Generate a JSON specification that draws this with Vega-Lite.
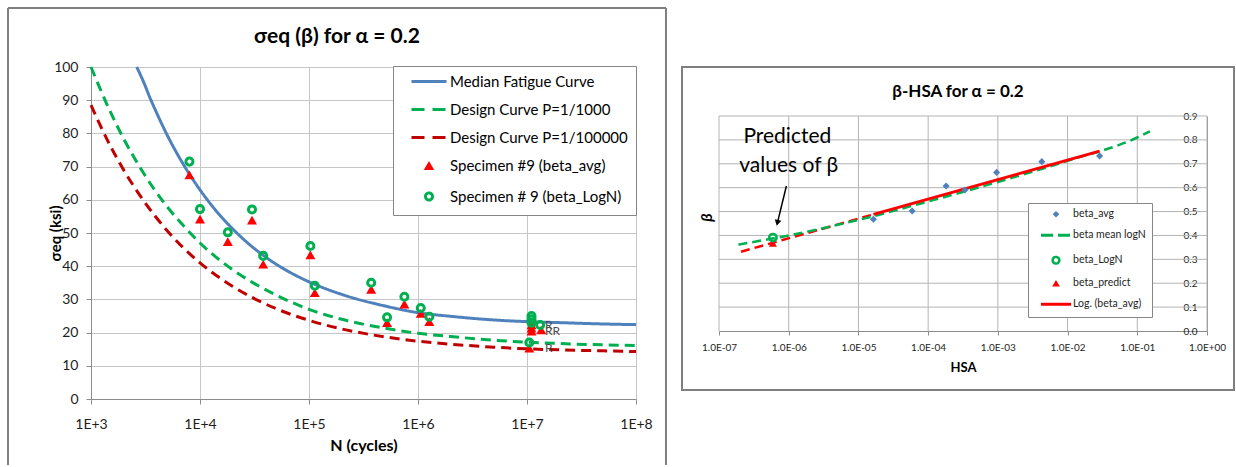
{
  "$schema": "https://vega.github.io/schema/vega-lite/v6.json",
  "padding": {"left": 7, "top": 7, "right": 0, "bottom": 0},
  "background": "#FFFFFF",
  "config": {
    "font": "Lato",
    "view": {"stroke": null},
    "axis": {
      "gridColor": "#C6C6C6",
      "gridWidth": 1,
      "domainColor": "#8C8C8C",
      "tickColor": "#8C8C8C",
      "labelColor": "#1E1E1E",
      "titleColor": "#000000",
      "labelFont": "Lato",
      "titleFont": "Lato"
    },
    "title": {"font": "Lato", "color": "#000000"}
  },
  "datasets": {
    "curves": [
      {"series": "Median Fatigue Curve", "N": 2630, "s": 100},
      {"series": "Median Fatigue Curve", "N": 3000, "s": 95.9},
      {"series": "Median Fatigue Curve", "N": 3500, "s": 90.5},
      {"series": "Median Fatigue Curve", "N": 4000, "s": 86.2},
      {"series": "Median Fatigue Curve", "N": 5000, "s": 79.5},
      {"series": "Median Fatigue Curve", "N": 7000, "s": 70.8},
      {"series": "Median Fatigue Curve", "N": 10000, "s": 63.0},
      {"series": "Median Fatigue Curve", "N": 15000, "s": 55.6},
      {"series": "Median Fatigue Curve", "N": 20000, "s": 51.2},
      {"series": "Median Fatigue Curve", "N": 30000, "s": 45.9},
      {"series": "Median Fatigue Curve", "N": 50000, "s": 40.6},
      {"series": "Median Fatigue Curve", "N": 70000, "s": 37.8},
      {"series": "Median Fatigue Curve", "N": 100000, "s": 35.3},
      {"series": "Median Fatigue Curve", "N": 200000, "s": 31.5},
      {"series": "Median Fatigue Curve", "N": 500000, "s": 28.0},
      {"series": "Median Fatigue Curve", "N": 1000000, "s": 26.0},
      {"series": "Median Fatigue Curve", "N": 2000000, "s": 24.9},
      {"series": "Median Fatigue Curve", "N": 5000000, "s": 23.8},
      {"series": "Median Fatigue Curve", "N": 10000000, "s": 23.3},
      {"series": "Median Fatigue Curve", "N": 20000000, "s": 23.0},
      {"series": "Median Fatigue Curve", "N": 50000000, "s": 22.6},
      {"series": "Median Fatigue Curve", "N": 100000000, "s": 22.4},
      {"series": "Design Curve P=1/1000", "N": 1000, "s": 100},
      {"series": "Design Curve P=1/1000", "N": 1500, "s": 86.6},
      {"series": "Design Curve P=1/1000", "N": 2000, "s": 78.3},
      {"series": "Design Curve P=1/1000", "N": 3000, "s": 68.3},
      {"series": "Design Curve P=1/1000", "N": 5000, "s": 57.9},
      {"series": "Design Curve P=1/1000", "N": 7000, "s": 52.3},
      {"series": "Design Curve P=1/1000", "N": 10000, "s": 47.0},
      {"series": "Design Curve P=1/1000", "N": 20000, "s": 38.9},
      {"series": "Design Curve P=1/1000", "N": 30000, "s": 35.2},
      {"series": "Design Curve P=1/1000", "N": 50000, "s": 31.3},
      {"series": "Design Curve P=1/1000", "N": 100000, "s": 27.0},
      {"series": "Design Curve P=1/1000", "N": 200000, "s": 24.0},
      {"series": "Design Curve P=1/1000", "N": 500000, "s": 21.3},
      {"series": "Design Curve P=1/1000", "N": 1000000, "s": 19.8},
      {"series": "Design Curve P=1/1000", "N": 2000000, "s": 18.8},
      {"series": "Design Curve P=1/1000", "N": 5000000, "s": 17.7},
      {"series": "Design Curve P=1/1000", "N": 10000000, "s": 17.1},
      {"series": "Design Curve P=1/1000", "N": 20000000, "s": 16.7},
      {"series": "Design Curve P=1/1000", "N": 50000000, "s": 16.3},
      {"series": "Design Curve P=1/1000", "N": 100000000, "s": 16.1},
      {"series": "Design Curve P=1/100000", "N": 1000, "s": 88.5},
      {"series": "Design Curve P=1/100000", "N": 1500, "s": 76.3},
      {"series": "Design Curve P=1/100000", "N": 2000, "s": 68.9},
      {"series": "Design Curve P=1/100000", "N": 3000, "s": 60.0},
      {"series": "Design Curve P=1/100000", "N": 5000, "s": 50.7},
      {"series": "Design Curve P=1/100000", "N": 7000, "s": 45.6},
      {"series": "Design Curve P=1/100000", "N": 10000, "s": 41.0},
      {"series": "Design Curve P=1/100000", "N": 20000, "s": 33.9},
      {"series": "Design Curve P=1/100000", "N": 30000, "s": 30.6},
      {"series": "Design Curve P=1/100000", "N": 50000, "s": 27.2},
      {"series": "Design Curve P=1/100000", "N": 100000, "s": 23.7},
      {"series": "Design Curve P=1/100000", "N": 200000, "s": 21.1},
      {"series": "Design Curve P=1/100000", "N": 500000, "s": 18.7},
      {"series": "Design Curve P=1/100000", "N": 1000000, "s": 17.4},
      {"series": "Design Curve P=1/100000", "N": 2000000, "s": 16.5},
      {"series": "Design Curve P=1/100000", "N": 5000000, "s": 15.6},
      {"series": "Design Curve P=1/100000", "N": 10000000, "s": 15.1},
      {"series": "Design Curve P=1/100000", "N": 20000000, "s": 14.8},
      {"series": "Design Curve P=1/100000", "N": 50000000, "s": 14.5},
      {"series": "Design Curve P=1/100000", "N": 100000000, "s": 14.3}
    ],
    "specimens": [
      {"series": "Specimen #9 (beta_avg)", "N": 8000, "s": 67.5},
      {"series": "Specimen #9 (beta_avg)", "N": 10000, "s": 54.2},
      {"series": "Specimen #9 (beta_avg)", "N": 18000, "s": 47.4},
      {"series": "Specimen #9 (beta_avg)", "N": 30000, "s": 53.9},
      {"series": "Specimen #9 (beta_avg)", "N": 38000, "s": 40.6},
      {"series": "Specimen #9 (beta_avg)", "N": 103000, "s": 43.4},
      {"series": "Specimen #9 (beta_avg)", "N": 113000, "s": 32.0},
      {"series": "Specimen #9 (beta_avg)", "N": 372000, "s": 33.0},
      {"series": "Specimen #9 (beta_avg)", "N": 520000, "s": 23.0},
      {"series": "Specimen #9 (beta_avg)", "N": 750000, "s": 28.6},
      {"series": "Specimen #9 (beta_avg)", "N": 1060000, "s": 25.8},
      {"series": "Specimen #9 (beta_avg)", "N": 1270000, "s": 23.3},
      {"series": "Specimen #9 (beta_avg)", "N": 11000000, "s": 22.3},
      {"series": "Specimen #9 (beta_avg)", "N": 11000000, "s": 21.3},
      {"series": "Specimen #9 (beta_avg)", "N": 11000000, "s": 20.4},
      {"series": "Specimen #9 (beta_avg)", "N": 13500000, "s": 20.8},
      {"series": "Specimen #9 (beta_avg)", "N": 10500000, "s": 15.3},
      {"series": "Specimen # 9 (beta_LogN)", "N": 8000, "s": 71.5},
      {"series": "Specimen # 9 (beta_LogN)", "N": 10000, "s": 57.2},
      {"series": "Specimen # 9 (beta_LogN)", "N": 18000, "s": 50.2},
      {"series": "Specimen # 9 (beta_LogN)", "N": 30000, "s": 57.1},
      {"series": "Specimen # 9 (beta_LogN)", "N": 38000, "s": 43.1},
      {"series": "Specimen # 9 (beta_LogN)", "N": 103000, "s": 46.1},
      {"series": "Specimen # 9 (beta_LogN)", "N": 113000, "s": 34.1},
      {"series": "Specimen # 9 (beta_LogN)", "N": 372000, "s": 35.0},
      {"series": "Specimen # 9 (beta_LogN)", "N": 520000, "s": 24.6},
      {"series": "Specimen # 9 (beta_LogN)", "N": 750000, "s": 30.8},
      {"series": "Specimen # 9 (beta_LogN)", "N": 1060000, "s": 27.4},
      {"series": "Specimen # 9 (beta_LogN)", "N": 1270000, "s": 24.8},
      {"series": "Specimen # 9 (beta_LogN)", "N": 11000000, "s": 25.0},
      {"series": "Specimen # 9 (beta_LogN)", "N": 11000000, "s": 24.0},
      {"series": "Specimen # 9 (beta_LogN)", "N": 11000000, "s": 23.0},
      {"series": "Specimen # 9 (beta_LogN)", "N": 13200000, "s": 22.3},
      {"series": "Specimen # 9 (beta_LogN)", "N": 10500000, "s": 17.0}
    ],
    "runouts": [
      {"N": 14600000, "s": 22.3, "t": "R"},
      {"N": 14600000, "s": 20.5, "t": "RR"},
      {"N": 14600000, "s": 15.5, "t": "R"}
    ],
    "hsaGridV": [
      {"h": 1e-7, "b": 0, "b2": 0.9},
      {"h": 1e-6, "b": 0, "b2": 0.9},
      {"h": 1e-5, "b": 0, "b2": 0.9},
      {"h": 1e-4, "b": 0, "b2": 0.9},
      {"h": 1e-3, "b": 0, "b2": 0.9},
      {"h": 1e-2, "b": 0, "b2": 0.9},
      {"h": 1e-1, "b": 0, "b2": 0.9},
      {"h": 1, "b": 0, "b2": 0.9}
    ],
    "hsaGridH": [
      {"b": 0.1, "h": 1e-7, "h2": 1},
      {"b": 0.2, "h": 1e-7, "h2": 1},
      {"b": 0.3, "h": 1e-7, "h2": 1},
      {"b": 0.4, "h": 1e-7, "h2": 1},
      {"b": 0.5, "h": 1e-7, "h2": 1},
      {"b": 0.6, "h": 1e-7, "h2": 1},
      {"b": 0.7, "h": 1e-7, "h2": 1},
      {"b": 0.8, "h": 1e-7, "h2": 1},
      {"b": 0.9, "h": 1e-7, "h2": 1}
    ],
    "hsaCurves": [
      {"series": "extension", "h": 2.07e-7, "b": 0.332},
      {"series": "extension", "h": 1.64e-5, "b": 0.488},
      {"series": "beta mean logN", "h": 1.9e-7, "b": 0.362},
      {"series": "beta mean logN", "h": 1e-6, "b": 0.400},
      {"series": "beta mean logN", "h": 1e-5, "b": 0.465},
      {"series": "beta mean logN", "h": 1e-4, "b": 0.542},
      {"series": "beta mean logN", "h": 1e-3, "b": 0.624},
      {"series": "beta mean logN", "h": 1e-2, "b": 0.712},
      {"series": "beta mean logN", "h": 1e-1, "b": 0.810},
      {"series": "beta mean logN", "h": 0.152, "b": 0.836},
      {"series": "Log. (beta_avg)", "h": 1.64e-5, "b": 0.488},
      {"series": "Log. (beta_avg)", "h": 2.88e-2, "b": 0.753}
    ],
    "hsaPoints": [
      {"series": "beta_avg", "h": 1.64e-5, "b": 0.468},
      {"series": "beta_avg", "h": 5.9e-5, "b": 0.502},
      {"series": "beta_avg", "h": 1.81e-4, "b": 0.607},
      {"series": "beta_avg", "h": 3.37e-4, "b": 0.590},
      {"series": "beta_avg", "h": 9.6e-4, "b": 0.664},
      {"series": "beta_avg", "h": 4.27e-3, "b": 0.709},
      {"series": "beta_avg", "h": 2.88e-2, "b": 0.733},
      {"series": "beta_LogN", "h": 5.93e-7, "b": 0.391},
      {"series": "beta_predict", "h": 5.93e-7, "b": 0.367}
    ],
    "notes": [
      {"h": 9.55e-7, "b": 0.8104, "t": "Predicted"},
      {"h": 1.0e-6, "b": 0.6907, "t": "values of β"}
    ],
    "arrow": [
      {"h": 9.265e-7, "b": 0.607, "h2": 6.88e-7, "b2": 0.4529}
    ]
  },
  "hconcat": [
    {
      "width": 545,
      "height": 332,
      "title": {"text": "σeq (β) for α = 0.2", "fontSize": 21, "fontWeight": "bold", "frame": "bounds", "anchor": "middle", "offset": -40},
      "layer": [
        {
          "data": {"values": [{}]},
          "mark": {"type": "rule", "color": "#7F7F7F", "strokeWidth": 2},
          "encoding": {
            "x": {"datum": 173.2, "type": "quantitative", "scale": {"type": "log", "domain": [1000, 100000000], "nice": false},
              "axis": {"values": [1000, 10000, 100000, 1000000, 10000000, 100000000], "labelExpr": "'1E+' + round(log(datum.value) / LN10)", "title": "N (cycles)", "titleFontSize": 16, "titleFontWeight": "bold", "titlePadding": 6, "labelFontSize": 14, "labelPadding": 13, "tickSize": 5, "labelFlush": false, "labelOverlap": false, "grid": true}},
            "y": {"datum": 117.77, "type": "quantitative", "scale": {"domain": [0, 100], "nice": false, "zero": false},
              "axis": {"values": [0, 10, 20, 30, 40, 50, 60, 70, 80, 90, 100], "title": "σeq (ksi)", "titleFontSize": 15, "titleFontWeight": "bold", "titlePadding": -10, "labelFontSize": 14, "labelPadding": 8, "tickSize": 5, "grid": true}},
            "y2": {"datum": -19.88}
          }
        },
        {
          "data": {"values": [{}]},
          "mark": {"type": "rule", "color": "#7F7F7F", "strokeWidth": 2},
          "encoding": {
            "x": {"datum": 173.2, "type": "quantitative", "scale": {"type": "log", "domain": [1000, 100000000], "nice": false},
              "axis": {"values": [1000, 10000, 100000, 1000000, 10000000, 100000000], "labelExpr": "'1E+' + round(log(datum.value) / LN10)", "title": "N (cycles)", "titleFontSize": 16, "titleFontWeight": "bold", "titlePadding": 6, "labelFontSize": 14, "labelPadding": 13, "tickSize": 5, "labelFlush": false, "labelOverlap": false, "grid": true}},
            "x2": {"datum": 188400000},
            "y": {"datum": 117.77, "type": "quantitative", "scale": {"domain": [0, 100], "nice": false, "zero": false},
              "axis": {"values": [0, 10, 20, 30, 40, 50, 60, 70, 80, 90, 100], "title": "σeq (ksi)", "titleFontSize": 15, "titleFontWeight": "bold", "titlePadding": -10, "labelFontSize": 14, "labelPadding": 8, "tickSize": 5, "grid": true}}
          }
        },
        {
          "data": {"values": [{}]},
          "mark": {"type": "rule", "color": "#7F7F7F", "strokeWidth": 2},
          "encoding": {
            "x": {"datum": 188400000, "type": "quantitative", "scale": {"type": "log", "domain": [1000, 100000000], "nice": false},
              "axis": {"values": [1000, 10000, 100000, 1000000, 10000000, 100000000], "labelExpr": "'1E+' + round(log(datum.value) / LN10)", "title": "N (cycles)", "titleFontSize": 16, "titleFontWeight": "bold", "titlePadding": 6, "labelFontSize": 14, "labelPadding": 13, "tickSize": 5, "labelFlush": false, "labelOverlap": false, "grid": true}},
            "y": {"datum": 117.77, "type": "quantitative", "scale": {"domain": [0, 100], "nice": false, "zero": false},
              "axis": {"values": [0, 10, 20, 30, 40, 50, 60, 70, 80, 90, 100], "title": "σeq (ksi)", "titleFontSize": 15, "titleFontWeight": "bold", "titlePadding": -10, "labelFontSize": 14, "labelPadding": 8, "tickSize": 5, "grid": true}},
            "y2": {"datum": -19.88}
          }
        },
        {
          "encoding": {
            "x": {
              "field": "N", "type": "quantitative",
              "scale": {"type": "log", "domain": [1000, 100000000], "nice": false},
              "axis": {"values": [1000, 10000, 100000, 1000000, 10000000, 100000000], "labelExpr": "'1E+' + round(log(datum.value) / LN10)", "title": "N (cycles)", "titleFontSize": 16, "titleFontWeight": "bold", "titlePadding": 6, "labelFontSize": 14, "labelPadding": 13, "tickSize": 5, "labelFlush": false, "labelOverlap": false, "grid": true}
            },
            "y": {
              "field": "s", "type": "quantitative",
              "scale": {"domain": [0, 100], "nice": false, "zero": false},
              "axis": {"values": [0, 10, 20, 30, 40, 50, 60, 70, 80, 90, 100], "title": "σeq (ksi)", "titleFontSize": 15, "titleFontWeight": "bold", "titlePadding": -10, "labelFontSize": 14, "labelPadding": 8, "tickSize": 5, "grid": true}
            }
          },
          "layer": [
            {
              "data": {"name": "curves"},
              "mark": {"type": "line", "strokeWidth": 3, "interpolate": "monotone"},
              "encoding": {
                "color": {
                  "field": "series", "type": "nominal",
                  "scale": {
                    "domain": ["Median Fatigue Curve", "Design Curve P=1/1000", "Design Curve P=1/100000", "Specimen #9 (beta_avg)", "Specimen # 9 (beta_LogN)"],
                    "range": ["#4F81BD", "#00B050", "#C00000", "#FF0000", "#00B050"]
                  },
                  "legend": {
                    "orient": "none", "legendX": 302, "legendY": -1, "title": null,
                    "padding": 8, "strokeColor": "#868686", "fillColor": "#FFFFFF",
                    "labelFontSize": 15, "labelColor": "#000000", "labelLimit": 300,
                    "symbolSize": 1225, "symbolOffset": 0, "labelOffset": 5, "rowPadding": 12,
                    "encode": {
                      "symbols": {
                        "update": {
                          "x": {"value": 28},
                          "shape": {"signal": "datum.value === 'Specimen #9 (beta_avg)' ? 'triangle-up' : datum.value === 'Specimen # 9 (beta_LogN)' ? 'circle' : 'stroke'"},
                          "size": {"signal": "datum.value === 'Specimen #9 (beta_avg)' ? 110 : datum.value === 'Specimen # 9 (beta_LogN)' ? 50 : 1225"},
                          "fill": {"signal": "datum.value === 'Specimen #9 (beta_avg)' ? '#FF0000' : 'transparent'"},
                          "fillOpacity": {"signal": "datum.value === 'Specimen #9 (beta_avg)' ? 1 : 0"},
                          "stroke": {"signal": "datum.value === 'Median Fatigue Curve' ? '#4F81BD' : datum.value === 'Design Curve P=1/100000' ? '#C00000' : datum.value === 'Specimen #9 (beta_avg)' ? 'transparent' : '#00B050'"},
                          "strokeWidth": {"signal": "datum.value === 'Specimen #9 (beta_avg)' ? 0 : 3"},
                          "strokeDash": {"signal": "datum.value === 'Design Curve P=1/1000' || datum.value === 'Design Curve P=1/100000' ? [13, 8] : [1, 0]"},
                          "opacity": {"value": 1}
                        }
                      },
                      "labels": {
                        "update": {"x": {"value": 49}}
                      }
                    }
                  }
                },
                "strokeDash": {
                  "field": "series", "type": "nominal",
                  "scale": {"domain": ["Median Fatigue Curve", "Design Curve P=1/1000", "Design Curve P=1/100000"], "range": [[1, 0], [10, 6], [10, 6]]},
                  "legend": null
                }
              }
            },
            {
              "data": {"name": "specimens"},
              "transform": [{"filter": "datum.series === 'Specimen #9 (beta_avg)'"}],
              "mark": {"type": "point", "shape": "triangle-up", "filled": true, "size": 100, "opacity": 1},
              "encoding": {"color": {"field": "series", "type": "nominal"}}
            },
            {
              "data": {"name": "specimens"},
              "transform": [{"filter": "datum.series === 'Specimen # 9 (beta_LogN)'"}],
              "mark": {"type": "point", "shape": "circle", "filled": false, "strokeWidth": 3, "size": 50, "opacity": 1},
              "encoding": {"color": {"field": "series", "type": "nominal"}}
            },
            {
              "data": {"name": "runouts"},
              "mark": {"type": "text", "align": "left", "baseline": "middle", "fontSize": 12, "color": "#4D4D4D"},
              "encoding": {"text": {"field": "t"}}
            }
          ]
        }
      ]
    },
    {
      "width": 552,
      "height": 323,
      "view": {"stroke": "#7F7F7F", "strokeWidth": 2},
      "title": {"text": "β-HSA for α = 0.2", "fontSize": 17, "fontWeight": "bold", "frame": "bounds", "anchor": "middle", "offset": -34},
      "encoding": {
        "x": {
          "field": "h", "type": "quantitative",
          "scale": {"type": "log", "domain": [1e-7, 1], "range": [37, 525], "nice": false},
          "axis": {
            "values": [1e-7, 1e-6, 1e-5, 1e-4, 1e-3, 1e-2, 1e-1, 1],
            "labelExpr": "'1.0E' + (datum.value < 1 ? '-' : '+') + '0' + abs(round(log(datum.value) / LN10))",
            "offset": -59,
            "title": "HSA", "titleFontSize": 13, "titleFontWeight": "bold", "titlePadding": 9,
            "labelFontSize": 10, "labelPadding": 7, "tickSize": 4, "labelFlush": false, "labelOverlap": false, "grid": false
          }
        },
        "y": {
          "field": "b", "type": "quantitative",
          "scale": {"domain": [0, 0.9], "range": [264, 49], "nice": false, "zero": false},
          "axis": {
            "orient": "right", "offset": -27,
            "values": [0, 0.1, 0.2, 0.3, 0.4, 0.5, 0.6, 0.7, 0.8, 0.9],
            "format": ".1f", "ticks": false, "labelAlign": "right", "labelPadding": -10,
            "labelFontSize": 10, "grid": false,
            "title": "β", "titleX": -501, "titleY": 150, "titleAngle": 270, "titleFontStyle": "italic",
            "titleFontWeight": "bold", "titleFontSize": 16, "titleAlign": "center", "titleBaseline": "middle"
          }
        }
      },
      "layer": [
        {
          "data": {"name": "hsaGridV"},
          "mark": {"type": "rule", "color": "#B4B4B4", "strokeWidth": 1},
          "encoding": {"y2": {"field": "b2"}}
        },
        {
          "data": {"name": "hsaGridH"},
          "mark": {"type": "rule", "color": "#B4B4B4", "strokeWidth": 1},
          "encoding": {"x2": {"field": "h2"}}
        },
        {
          "data": {"name": "hsaCurves"},
          "transform": [{"filter": "datum.series === 'extension'"}],
          "mark": {"type": "line", "color": "#FF0000", "strokeWidth": 2.5, "strokeDash": [9, 5]}
        },
        {
          "data": {"name": "hsaCurves"},
          "transform": [{"filter": "datum.series === 'beta mean logN'"}],
          "mark": {"type": "line", "strokeWidth": 2.5, "strokeDash": [9, 5], "interpolate": "monotone"},
          "encoding": {
            "color": {
              "field": "series", "type": "nominal",
              "scale": {
                "domain": ["beta_avg", "beta mean logN", "beta_LogN", "beta_predict", "Log. (beta_avg)"],
                "range": ["#4F81BD", "#00B050", "#00B050", "#FF0000", "#FF0000"]
              },
              "legend": {
                "orient": "none", "legendX": 346, "legendY": 136, "title": null,
                "padding": 6, "strokeColor": "#868686", "fillColor": "#FFFFFF",
                "labelFontSize": 10.5, "labelColor": "#1E1E1E", "labelLimit": 200,
                "symbolSize": 900, "symbolOffset": 0, "labelOffset": 6, "rowPadding": 9,
                "encode": {
                  "symbols": {
                    "update": {
                      "x": {"value": 22},
                      "shape": {"signal": "datum.value === 'beta_avg' ? 'diamond' : datum.value === 'beta_LogN' ? 'circle' : datum.value === 'beta_predict' ? 'triangle-up' : 'stroke'"},
                      "size": {"signal": "datum.value === 'beta_avg' ? 45 : datum.value === 'beta_LogN' ? 45 : datum.value === 'beta_predict' ? 60 : 900"},
                      "fill": {"signal": "datum.value === 'beta_avg' ? '#4F81BD' : datum.value === 'beta_predict' ? '#FF0000' : 'transparent'"},
                      "fillOpacity": {"signal": "datum.value === 'beta_avg' || datum.value === 'beta_predict' ? 1 : 0"},
                      "stroke": {"signal": "datum.value === 'beta mean logN' || datum.value === 'beta_LogN' ? '#00B050' : datum.value === 'Log. (beta_avg)' ? '#FF0000' : 'transparent'"},
                      "strokeWidth": {"signal": "datum.value === 'beta_LogN' ? 2.5 : (datum.value === 'beta mean logN' || datum.value === 'Log. (beta_avg)') ? 3 : 0"},
                      "strokeDash": {"signal": "datum.value === 'beta mean logN' ? [12, 5] : [1, 0]"},
                      "opacity": {"value": 1}
                    }
                  },
                  "labels": {
                    "update": {"x": {"value": 39}}
                  }
                }
              }
            }
          }
        },
        {
          "data": {"name": "hsaCurves"},
          "transform": [{"filter": "datum.series === 'Log. (beta_avg)'"}],
          "mark": {"type": "line", "strokeWidth": 3},
          "encoding": {"color": {"field": "series", "type": "nominal"}}
        },
        {
          "data": {"name": "hsaPoints"},
          "transform": [{"filter": "datum.series === 'beta_avg'"}],
          "mark": {"type": "point", "shape": "diamond", "filled": true, "size": 50, "opacity": 1},
          "encoding": {"color": {"field": "series", "type": "nominal"}}
        },
        {
          "data": {"name": "hsaPoints"},
          "transform": [{"filter": "datum.series === 'beta_predict'"}],
          "mark": {"type": "point", "shape": "triangle-up", "filled": true, "size": 65, "opacity": 1},
          "encoding": {"color": {"field": "series", "type": "nominal"}}
        },
        {
          "data": {"name": "hsaPoints"},
          "transform": [{"filter": "datum.series === 'beta_LogN'"}],
          "mark": {"type": "point", "shape": "circle", "filled": false, "strokeWidth": 2.5, "size": 55, "opacity": 1},
          "encoding": {"color": {"field": "series", "type": "nominal"}}
        },
        {
          "data": {"name": "notes"},
          "mark": {"type": "text", "align": "center", "baseline": "middle", "fontSize": 21, "color": "#000000"},
          "encoding": {"text": {"field": "t"}}
        },
        {
          "data": {"name": "arrow"},
          "mark": {"type": "rule", "color": "#000000", "strokeWidth": 1.5},
          "encoding": {"x2": {"field": "h2"}, "y2": {"field": "b2"}}
        },
        {
          "data": {"name": "arrow"},
          "mark": {"type": "point", "shape": "triangle-down", "filled": true, "color": "#000000", "size": 45, "angle": 14, "opacity": 1},
          "encoding": {"x": {"field": "h2", "type": "quantitative"}, "y": {"field": "b2", "type": "quantitative"}}
        }
      ]
    }
  ],
  "spacing": 14,
  "resolve": {
    "scale": {"color": "independent", "strokeDash": "independent"},
    "legend": {"color": "independent", "strokeDash": "independent"}
  }
}
